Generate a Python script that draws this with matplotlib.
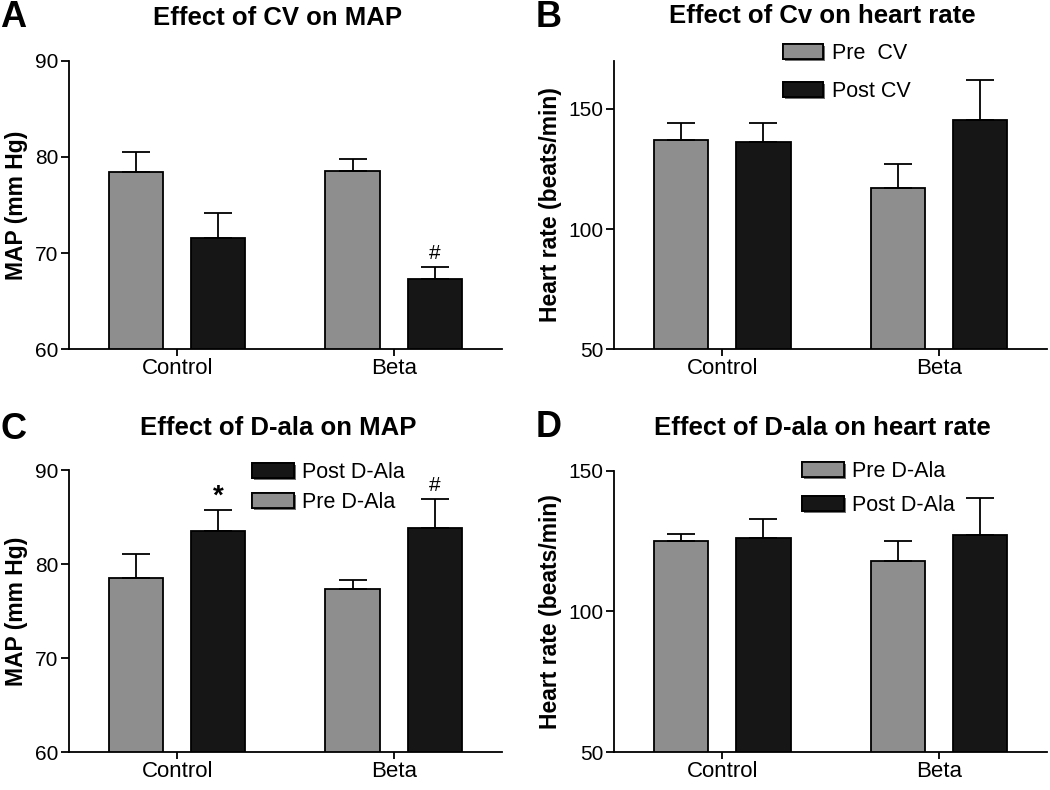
"""Four panel bar chart: effect of CV and D-ala on MAP and heart rate."""
import numpy as np
import matplotlib.pyplot as plt
import matplotlib.patheffects as pe

plt.rcParams["font.family"] = ["Liberation Sans", "DejaVu Sans"]

groups = ["Control", "Beta"]

# panel A: MAP, CV
a_pre = [78.4, 78.5]
a_pre_err = [2.1, 1.3]
a_post = [71.6, 67.3]
a_post_err = [2.6, 1.2]
a_marks = ["", "#"]

# panel B: heart rate, CV
b_pre = [137.2, 117.1]
b_pre_err = [7.0, 10.0]
b_post = [136.3, 145.4]
b_post_err = [7.9, 16.8]
b_marks = ["", ""]

# panel C: MAP, D-ala
c_pre = [78.5, 77.3]
c_pre_err = [2.6, 1.0]
c_post = [83.5, 83.8]
c_post_err = [2.3, 3.1]
c_marks = ["*", "#"]

# panel D: heart rate, D-ala
d_pre = [125.1, 118.1]
d_pre_err = [2.6, 7.0]
d_post = [126.2, 127.3]
d_post_err = [6.8, 12.9]
d_marks = ["", ""]

GRAY = "#8e8e8e"
BLACK = "#161616"
WIDTH = 0.25
OFFSET = 0.19


def draw_panel(ax, pre, pre_err, post, post_err, marks, ylim, yticks, ylabel):
    x = np.arange(len(groups))
    ekw = dict(elinewidth=1.3, capthick=1.3, ecolor="black")
    b1 = ax.bar(x - OFFSET, pre, WIDTH, color=GRAY,
                edgecolor="black", linewidth=1.3,
                yerr=[np.zeros(len(pre)), pre_err], capsize=10,
                error_kw=ekw, zorder=2)
    b2 = ax.bar(x + OFFSET, post, WIDTH, color=BLACK,
                edgecolor="black", linewidth=1.3,
                yerr=[np.zeros(len(post)), post_err], capsize=10,
                error_kw=ekw, zorder=2)
    span = ylim[1] - ylim[0]
    for i, m in enumerate(marks):
        if m:
            top = post[i] + post_err[i]
            if m == "*":
                ax.text(x[i] + OFFSET, top + 0.045 * span, m, ha="center",
                        va="center", fontsize=20, fontweight="bold")
            else:
                ax.text(x[i] + OFFSET, top + 0.05 * span, m, ha="center",
                        va="center", fontsize=15)
    ax.set_xlim(-0.5, 1.5)
    ax.set_ylim(*ylim)
    ax.set_yticks(yticks)
    ax.set_xticks(x)
    ax.set_xticklabels(groups, fontsize=16)
    ax.tick_params(axis="y", labelsize=15, length=6, width=1.3, pad=1.5)
    ax.tick_params(axis="x", length=5, width=1.3, pad=1.5)
    ax.set_ylabel(ylabel, fontsize=16.5, fontweight="bold", labelpad=5)
    for s in ["top", "right"]:
        ax.spines[s].set_visible(False)
    for s in ["left", "bottom"]:
        ax.spines[s].set_linewidth(1.3)
    ax.spines["left"].set_bounds(ylim[0], yticks[-1])
    return b1, b2


def style_legend(leg):
    for h in leg.legend_handles:
        h.set_edgecolor("black")
        h.set_linewidth(1.3)
        h.set_path_effects([pe.withSimplePatchShadow(offset=(1.5, -1.5),
                                                     shadow_rgbFace="0.3",
                                                     alpha=0.8),
                            pe.Normal()])


fig = plt.figure(figsize=(10.5, 7.9), dpi=100)
ax_a = fig.add_axes([0.0657, 0.558, 0.4123, 0.365])
ax_b = fig.add_axes([0.585, 0.558, 0.412, 0.365])
ax_c = fig.add_axes([0.0657, 0.048, 0.4123, 0.357])
ax_d = fig.add_axes([0.585, 0.048, 0.412, 0.356])

draw_panel(ax_a, a_pre, a_pre_err, a_post, a_post_err, a_marks,
           (60, 90), [60, 70, 80, 90], "MAP (mm Hg)")
p, q = draw_panel(ax_b, b_pre, b_pre_err, b_post, b_post_err, b_marks,
                  (50, 170), [50, 100, 150], "Heart rate (beats/min)")
ax_b.spines["left"].set_bounds(50, 170)
leg = ax_b.legend([p, q], ["Pre  CV", "Post CV"], loc="upper left",
                  bbox_to_anchor=(0.39, 1.062), frameon=False, fontsize=15.5,
                  handlelength=1.85, handleheight=0.67, handletextpad=0.45,
                  labelspacing=0.78, borderpad=0, borderaxespad=0)
style_legend(leg)

p, q = draw_panel(ax_c, c_pre, c_pre_err, c_post, c_post_err, c_marks,
                  (60, 90), [60, 70, 80, 90], "MAP (mm Hg)")
leg = ax_c.legend([q, p], ["Post D-Ala", "Pre D-Ala"], loc="upper left",
                  bbox_to_anchor=(0.423, 1.028), frameon=False, fontsize=15.5,
                  handlelength=1.95, handleheight=0.67, handletextpad=0.38,
                  labelspacing=0.42, borderpad=0, borderaxespad=0)
style_legend(leg)

p, q = draw_panel(ax_d, d_pre, d_pre_err, d_post, d_post_err, d_marks,
                  (50, 150), [50, 100, 150], "Heart rate (beats/min)")
leg = ax_d.legend([p, q], ["Pre D-Ala", "Post D-Ala"], loc="upper left",
                  bbox_to_anchor=(0.434, 1.034), frameon=False, fontsize=15.5,
                  handlelength=1.95, handleheight=0.67, handletextpad=0.38,
                  labelspacing=0.6, borderpad=0, borderaxespad=0)
style_legend(leg)

# titles and panel letters
W, H = 1050.0, 790.0
titles = ["Effect of CV on MAP", "Effect of Cv on heart rate",
          "Effect of D-ala on MAP", "Effect of D-ala on heart rate"]
title_xy = [(278, 18), (822, 16), (278, 428), (822, 428)]
letters = ["A", "B", "C", "D"]
letter_xy = [(0, 0), (536, 0), (0, 412), (536, 410)]
for t, (tx, ty) in zip(titles, title_xy):
    fig.text(tx / W, 1 - ty / H, t, ha="center", va="center",
             fontsize=18.5, fontweight="bold")
for t, (lx, ly) in zip(letters, letter_xy):
    fig.text(lx / W, 1 - ly / H, t, ha="left", va="top",
             fontsize=26, fontweight="bold")

fig.savefig("out.png", dpi=100)
